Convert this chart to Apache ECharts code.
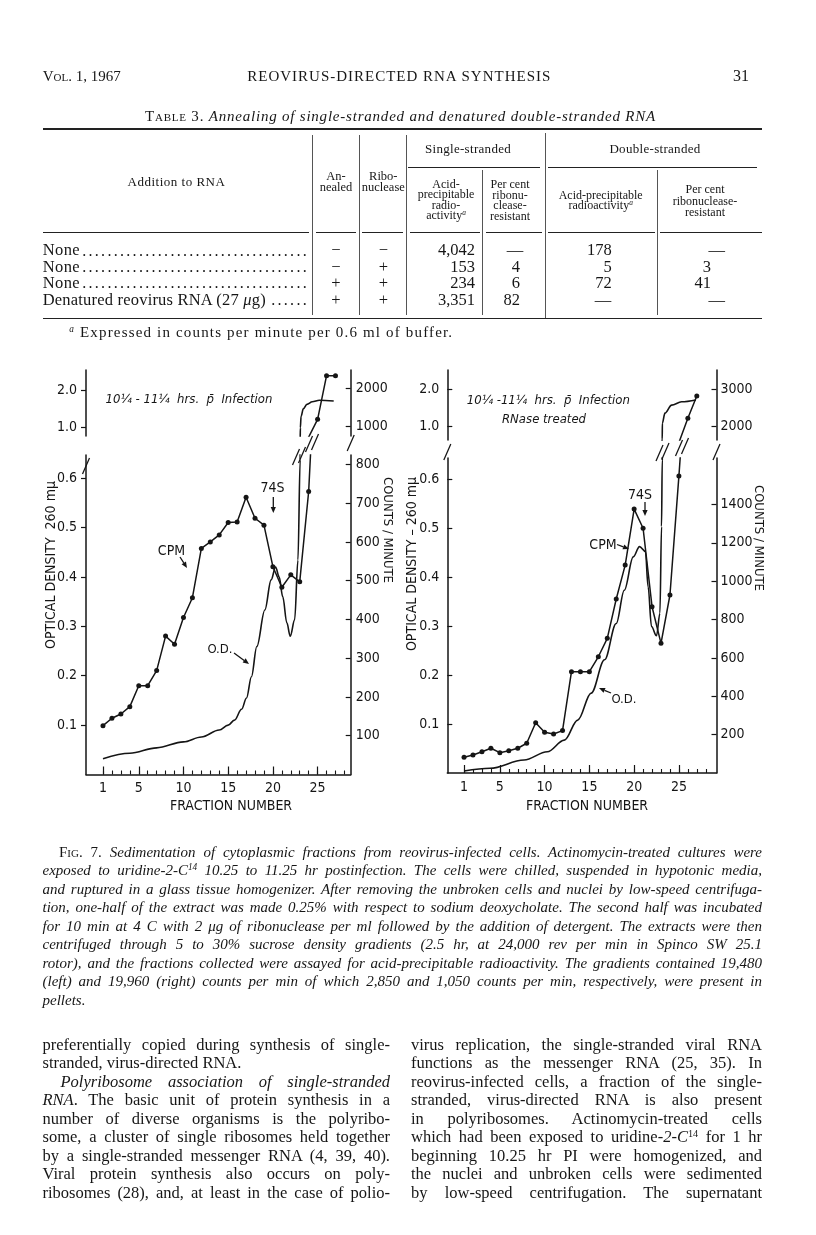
<!DOCTYPE html>
<html>
<head>
<meta charset="utf-8">
<title>Reovirus-directed RNA synthesis - Table 3 and Fig. 7</title>
<script src="https://cdn.jsdelivr.net/npm/echarts@6.0.0/dist/echarts.min.js"></script>
<style>
  html, body { margin: 0; padding: 0; background: #fff; }
  #page {
    position: relative; width: 816px; height: 1235px; overflow: hidden; color: #161616;
    font-family: 'Liberation Serif', 'DejaVu Serif', serif;
  }
  #chart { position: absolute; left: 0; top: 0; width: 816px; height: 1235px; }
  .t { position: absolute; white-space: nowrap; z-index: 2; }
  .rule { position: absolute; background: #222; z-index: 2; }
  .sc { font-variant: small-caps; }
  .up { font-style: normal; }
  sup { font-size: 0.62em; line-height: 0; vertical-align: 0.5em; }
</style>
</head>
<body>
<div id="page"><div id="chart"></div></div>
<script>
// Table 3
const rowLabels = ['None', 'None', 'None', 'Denatured reovirus RNA (27 <i>μ</i>g)'];
const annealed = ['−', '−', '+', '+'];
const ribonuclease = ['−', '+', '+', '+'];
const ssAcid = ['4,042', '153', '234', '3,351'];
const ssResistant = ['—', '4', '6', '82'];
const dsAcid = ['178', '5', '72', '—'];
const dsResistant = ['—', '3', '41', '—'];

// Fig. 7, counts per minute for each fraction
const fractions = [1, 2, 3, 4, 5, 6, 7, 8, 9, 10, 11, 12, 13, 14, 15, 16, 17, 18, 19, 20, 21, 22, 23, 24, 25, 26, 27];
const cpmLeft = [126, 145, 156, 175, 229, 229, 268, 357, 336, 405, 456, 583, 600, 618, 650, 651, 715, 661, 643, 536, 483, 515, 497, 730, 1192, 2329, 2329];
const cpmRight = [82, 94, 111, 129, 106, 116, 129, 155, 262, 212, 203, 221, 528, 528, 528, 606, 702, 907, 1084, 1376, 1276, 867, 676, 928, 1548, 2210, 2817];

// Fig. 7, optical density traces (fraction, OD)
const odLeftFrac = [1, 4, 7, 10, 12, 14, 15, 15.7, 16.5, 17.05, 17.6, 18.2, 19.1, 19.8, 20.3, 20.7, 21.1, 21.56, 21.94, 22.43, 22.8, 23.05, 23.07, 23.15, 23.4, 23.8, 24.4, 25.2, 26.8];
const odLeftValue = [0.032, 0.043, 0.054, 0.066, 0.076, 0.09, 0.1, 0.11, 0.132, 0.155, 0.198, 0.259, 0.333, 0.394, 0.42, 0.4, 0.36, 0.307, 0.28, 0.313, 0.434, 0.637, 1.0, 1.3, 1.5, 1.62, 1.69, 1.73, 1.71];
const odRightFrac = [1, 3.9, 7.7, 10.3, 12.2, 13.7, 15.2, 16.7, 18.0, 18.9, 19.9, 20.6, 21.26, 21.56, 21.94, 22.5, 22.88, 23.06, 23.14, 23.15, 23.44, 24.19, 25.3, 26.9];
const odRightValue = [0.004, 0.0096, 0.0265, 0.0435, 0.067, 0.108, 0.163, 0.231, 0.305, 0.373, 0.441, 0.462, 0.452, 0.38, 0.299, 0.28, 0.326, 0.503, 0.639, 1.074, 1.35, 1.57, 1.66, 1.71];

// tick labels
const fractionTicks = [1, 2, 3, 4, 5, 6, 7, 8, 9, 10, 11, 12, 13, 14, 15, 16, 17, 18, 19, 20, 21, 22, 23, 24, 25, 26, 27, 28];
const fractionLabels = [1, 5, 10, 15, 20, 25];
const odTicksLow = [0.1, 0.2, 0.3, 0.4, 0.5, 0.6];
const odTicksHigh = [1.0, 2.0];
const cpmTicksLeftLow = [100, 200, 300, 400, 500, 600, 700, 800];
const cpmTicksLeftHigh = [1000, 2000];
const cpmTicksRightLow = [200, 400, 600, 800, 1000, 1200, 1400];
const cpmTicksRightHigh = [2000, 3000];

// ---------- page text ----------
const page = document.getElementById('page');

function put(html, x, y, o) {
  o = o || {};
  const d = document.createElement('div');
  d.className = 't';
  const fs = o.size || 15;
  d.style.fontSize = fs + 'px';
  d.style.lineHeight = fs + 'px';
  d.style.top = (y - fs / 2) + 'px';
  d.style.left = x + 'px';
  if (o.italic) d.style.fontStyle = 'italic';
  if (o.ls) d.style.letterSpacing = o.ls + 'px';
  if (o.align === 'center') d.style.transform = 'translateX(-50%)';
  if (o.align === 'right') d.style.transform = 'translateX(-100%)';
  d.innerHTML = html;
  page.appendChild(d);
  return d;
}

// stretch letter spacing so the text spans the given width
function fit(d, width) {
  const w = d.getBoundingClientRect().width;
  const n = d.textContent.length;
  d.style.letterSpacing = ((width - w) / n) + 'px';
  return d;
}

// justified single line
function justify(html, x, y, width, o) {
  const d = put(html, x, y, o);
  const gaps = (d.textContent.match(/ /g) || []).length;
  const w = d.getBoundingClientRect().width;
  if (gaps) d.style.wordSpacing = ((width - w) / gaps) + 'px';
  return d;
}

function hrule(x1, x2, y, t) {
  const d = document.createElement('div');
  d.className = 'rule';
  d.style.left = x1 + 'px'; d.style.width = (x2 - x1) + 'px';
  d.style.top = (y - t / 2) + 'px'; d.style.height = t + 'px';
  page.appendChild(d);
}
function vrule(x, y1, y2) {
  const d = document.createElement('div');
  d.className = 'rule';
  d.style.left = (x - 0.5) + 'px'; d.style.width = '1px';
  d.style.top = y1 + 'px'; d.style.height = (y2 - y1) + 'px';
  d.style.background = '#555';
  page.appendChild(d);
}

// running head
put('<span class="sc">Vol.</span> 1, 1967', 42.7, 76, { size: 15 });
fit(put('REOVIRUS-DIRECTED RNA SYNTHESIS', 247.3, 76, { size: 15 }), 304);
put('31', 749, 76, { size: 16, align: 'right' });

// table title and rules
fit(put('<span class="sc">Table</span> 3. <i>Annealing of single-stranded and denatured double-stranded RNA</i>', 145, 116.7, { size: 15 }), 511);
hrule(43, 762, 129.3, 2);
[312.7, 359.3, 406.7].forEach(x => vrule(x, 135, 315));
vrule(545, 133, 318);
[482.7, 657.3].forEach(x => vrule(x, 170, 315));
hrule(408, 540, 167.3, 1);
hrule(548, 757, 167.3, 1);
[[43, 309], [316, 356], [362, 403], [410, 480], [486, 542], [548, 655], [660, 762]]
  .forEach(s => hrule(s[0], s[1], 232.3, 1));
hrule(43, 762, 318.3, 1.6);

// column heads
put('Addition to RNA', 176.5, 181.7, { size: 13, align: 'center', ls: 0.5 });
put('An-', 336, 176.7, { size: 12.5, align: 'center' });
put('nealed', 336, 187.3, { size: 12.5, align: 'center' });
put('Ribo-', 383.3, 176.7, { size: 12.5, align: 'center' });
put('nuclease', 383.3, 187.3, { size: 12.5, align: 'center' });
put('Single-stranded', 468, 148.3, { size: 13, align: 'center', ls: 0.3 });
put('Double-stranded', 655, 148.3, { size: 13, align: 'center', ls: 0.3 });
['Acid-', 'precipitable', 'radio-', 'activity<sup><i>a</i></sup>']
  .forEach((s, i) => put(s, 446, 184 + i * 10.4, { size: 12, align: 'center' }));
['Per cent', 'ribonu-', 'clease-', 'resistant']
  .forEach((s, i) => put(s, 510, 184 + i * 10.5, { size: 12, align: 'center' }));
['Acid-precipitable', 'radioactivity<sup><i>a</i></sup>']
  .forEach((s, i) => put(s, 600.7, 195 + i * 10.2, { size: 12, align: 'center' }));
['Per cent', 'ribonuclease-', 'resistant']
  .forEach((s, i) => put(s, 705, 189.3 + i * 11.2, { size: 12, align: 'center' }));

// body of the table
const rowY = [250.7, 267.3, 283.3, 300];
function cell(val, y, rightX, dashX) {
  if (val === '—') put('—', dashX, y, { size: 16.5, align: 'center' });
  else put(val, rightX, y, { size: 16.5, align: 'right' });
}
rowLabels.forEach((lab, i) => {
  const y = rowY[i];
  const d = put(lab, 42.7, y, { size: 16.5, ls: i === 3 ? 0.2 : 0.4 });
  const end = 42.7 + d.getBoundingClientRect().width + 2;
  const n = Math.floor((309 - end) / 6.3);
  if (n > 0) put('.'.repeat(n), 309, y, { size: 16, align: 'right', ls: 2.3 });
  put(annealed[i], 336, y, { size: 16.5, align: 'center' });
  put(ribonuclease[i], 383.3, y, { size: 16.5, align: 'center' });
  cell(ssAcid[i], y, 475, 462);
  cell(ssResistant[i], y, 520, 515);
  cell(dsAcid[i], y, 611.7, 603);
  cell(dsResistant[i], y, 711, 716.7);
});
fit(put('<sup><i>a</i></sup> Expressed in counts per minute per 0.6 ml of buffer.', 69.3, 332.7, { size: 15 }), 384);

// figure legend
const capLines = [
  '<span class="up"><span class="sc">Fig.</span> 7.</span> Sedimentation of cytoplasmic fractions from reovirus-infected cells. Actinomycin-treated cultures were',
  'exposed to uridine-2-C<sup>14</sup> 10.25 to 11.25 hr postinfection. The cells were chilled, suspended in hypotonic media,',
  'and ruptured in a glass tissue homogenizer. After removing the unbroken cells and nuclei by low-speed centrifuga-',
  'tion, one-half of the extract was made 0.25% with respect to sodium deoxycholate. The second half was incubated',
  'for 10 min at 4 C with 2 μg of ribonuclease per ml followed by the addition of detergent. The extracts were then',
  'centrifuged through 5 to 30% sucrose density gradients (2.5 hr, at 24,000 rev per min in Spinco SW 25.1',
  'rotor), and the fractions collected were assayed for acid-precipitable radioactivity. The gradients contained 19,480',
  '(left) and 19,960 (right) counts per min of which 2,850 and 1,050 counts per min, respectively, were present in',
  'pellets.'
];
capLines.forEach((s, i) => {
  const y = 852 + i * 18.5;
  if (i === capLines.length - 1) put(s, 42.5, y, { size: 15, italic: true });
  else if (i === 0) justify(s, 59, y, 703, { size: 15, italic: true });
  else justify(s, 42.5, y, 719.5, { size: 15, italic: true });
});

// running text, two columns
const leftCol = [
  'preferentially copied during synthesis of single-',
  'stranded, virus-directed RNA.',
  '<i>Polyribosome association of single-stranded</i>',
  '<i>RNA</i>. The basic unit of protein synthesis in a',
  'number of diverse organisms is the polyribo-',
  'some, a cluster of single ribosomes held together',
  'by a single-stranded messenger RNA (4, 39, 40).',
  'Viral protein synthesis also occurs on poly-',
  'ribosomes (28), and, at least in the case of polio-'
];
const rightCol = [
  'virus replication, the single-stranded viral RNA',
  'functions as the messenger RNA (25, 35). In',
  'reovirus-infected cells, a fraction of the single-',
  'stranded, virus-directed RNA is also present',
  'in polyribosomes. Actinomycin-treated cells',
  'which had been exposed to uridine-<i>2-C</i><sup>14</sup> for 1 hr',
  'beginning 10.25 hr PI were homogenized, and',
  'the nuclei and unbroken cells were sedimented',
  'by low-speed centrifugation. The supernatant'
];
leftCol.forEach((s, i) => {
  const y = 1045 + i * 18.5;
  if (i === 1) put(s, 42.5, y, { size: 16.5 });
  else if (i === 2) justify(s, 60.5, y, 329.5, { size: 16.5 });
  else justify(s, 42.5, y, 347.5, { size: 16.5 });
});
rightCol.forEach((s, i) => justify(s, 411, 1045 + i * 18.5, 351, { size: 16.5 }));

// ---------- Fig. 7 ----------
const ink = '#151515';
const sans = "'Liberation Sans Narrow','DejaVu Sans Condensed','Liberation Sans',sans-serif";

function fracAxis(gridIndex, min, max, kind) {
  const ax = { type: 'value', gridIndex, min, max, position: 'bottom', splitLine: { show: false } };
  if (kind === 'hidden') return Object.assign(ax, { show: false });
  if (kind === 'major') {
    return Object.assign(ax, {
      axisLine: { show: false },
      axisTick: { inside: true, length: 8, customValues: fractionLabels, lineStyle: { color: ink, width: 1.2 } },
      axisLabel: { show: false }
    });
  }
  return Object.assign(ax, {
    axisLine: { onZero: false, lineStyle: { color: ink, width: 1.5 } },
    axisTick: { inside: true, length: 4, customValues: fractionTicks, lineStyle: { color: ink, width: 1.1 } },
    axisLabel: { customValues: fractionLabels, margin: 7, color: ink, fontFamily: sans, fontSize: 14 }
  });
}

function valAxis(gridIndex, position, min, max, ticks, o) {
  return {
    type: 'value', gridIndex, position, min, max,
    splitLine: { show: false },
    axisLine: { show: true, onZero: false, lineStyle: { color: ink, width: 1.5 } },
    axisTick: { show: true, inside: o.inside, length: 5, customValues: ticks, lineStyle: { color: ink, width: 1.2 } },
    axisLabel: {
      customValues: ticks, margin: o.margin, color: ink, fontFamily: sans, fontSize: 14,
      formatter: o.decimals ? (v => v.toFixed(1)) : (v => String(v))
    }
  };
}

function odSeries(xi, yi, fr, vals) {
  return {
    type: 'line', xAxisIndex: xi, yAxisIndex: yi, silent: true, clip: true,
    data: fr.map((f, i) => [f, vals[i]]),
    smooth: 0.35, smoothMonotone: 'x', symbol: 'none',
    lineStyle: { color: ink, width: 1.6 }
  };
}

function cpmSeries(xi, yi, vals) {
  return {
    type: 'line', xAxisIndex: xi, yAxisIndex: yi, silent: true, clip: true,
    data: fractions.map((f, i) => [f, vals[i]]),
    symbol: 'circle', symbolSize: 5, itemStyle: { color: ink },
    lineStyle: { color: ink, width: 1.5 }
  };
}

function label(text, x, y, size, o) {
  o = o || {};
  return {
    type: 'text', x, y, rotation: o.rot || 0, z: 10,
    style: {
      text, fontSize: size, fontFamily: sans, fontStyle: o.italic ? 'italic' : 'normal',
      fill: ink, align: 'center', verticalAlign: 'middle'
    }
  };
}

function arrow(x1, y1, x2, y2) {
  const a = Math.atan2(y2 - y1, x2 - x1), L = 6, W = 2.6;
  const bx = x2 - L * Math.cos(a), by = y2 - L * Math.sin(a);
  return [
    { type: 'line', z: 10, shape: { x1, y1, x2: bx, y2: by }, style: { stroke: ink, lineWidth: 1.3 } },
    { type: 'polygon', z: 10, shape: { points: [[x2, y2], [bx + W * Math.sin(a), by - W * Math.cos(a)], [bx - W * Math.sin(a), by + W * Math.cos(a)]] }, style: { fill: ink } }
  ];
}

function slash(cx, cy) {
  return { type: 'line', z: 10, shape: { x1: cx - 3.5, y1: cy + 8, x2: cx + 3.5, y2: cy - 8 }, style: { stroke: ink, lineWidth: 1.3 } };
}
function doubleSlash(cx, cy) { return [slash(cx - 3, cy + 1), slash(cx + 3, cy - 1)]; }

const graphics = [].concat(
  // axis titles
  label('FRACTION NUMBER', 231, 806.7, 14),
  label('FRACTION NUMBER', 587, 806.7, 14),
  label('OPTICAL DENSITY  260 mμ', 51, 565, 14, { rot: Math.PI / 2 }),
  label('COUNTS / MINUTE', 387.5, 530, 13, { rot: -Math.PI / 2 }),
  label('OPTICAL DENSITY – 260 mμ', 412.5, 564, 14, { rot: Math.PI / 2 }),
  label('COUNTS / MINUTE', 758, 538, 13, { rot: -Math.PI / 2 }),
  // left panel notes
  label('10¼ - 11¼  hrs.  p̄  Infection', 189, 400, 13, { italic: true }),
  label('CPM', 171.5, 551, 14),
  arrow(180, 557, 187, 568),
  label('74S', 272.5, 488, 14),
  arrow(273.3, 497, 273.3, 513),
  label('O.D.', 220, 650, 13),
  arrow(234, 653, 249, 664),
  // right panel notes
  label('10¼ -11¼  hrs.  p̄  Infection', 548.3, 400.8, 13, { italic: true }),
  label('RNase treated', 544, 420, 13, { italic: true }),
  label('74S', 640, 495, 14),
  arrow(645, 502, 645, 516),
  label('CPM', 603, 545, 14),
  arrow(617, 544.5, 629, 549),
  label('O.D.', 624, 700, 13),
  arrow(611, 693, 599, 688),
  // scale breaks
  slash(86, 466), slash(350.7, 443), doubleSlash(299, 456), doubleSlash(312, 443),
  slash(447.3, 452), slash(716.5, 452), doubleSlash(662.5, 452), doubleSlash(682, 447)
);

const chart = echarts.init(document.getElementById('chart'));
chart.setOption({
  animation: false,
  textStyle: { fontFamily: sans },
  grid: [
    { left: 86, top: 455, width: 264.7, height: 319.5 },
    { left: 86, top: 370, width: 264.7, height: 66 },
    { left: 447.3, top: 458, width: 269.2, height: 315 },
    { left: 447.3, top: 370, width: 269.2, height: 70 }
  ],
  xAxis: [
    fracAxis(0, -0.9, 28.7, 'minor'),
    fracAxis(0, -0.9, 28.7, 'major'),
    fracAxis(1, -0.9, 28.7, 'hidden'),
    fracAxis(2, -0.87, 29.2, 'minor'),
    fracAxis(2, -0.87, 29.2, 'major'),
    fracAxis(3, -0.87, 29.2, 'hidden')
  ],
  yAxis: [
    valAxis(0, 'left', 0, 0.6468, odTicksLow, { inside: false, margin: 9, decimals: true }),
    valAxis(0, 'right', 0, 824.1, cpmTicksLeftLow, { inside: true, margin: 5 }),
    valAxis(1, 'left', 0.78, 2.531, odTicksHigh, { inside: false, margin: 9, decimals: true }),
    valAxis(1, 'right', 757.8, 2476.6, cpmTicksLeftHigh, { inside: true, margin: 5 }),
    valAxis(2, 'left', 0, 0.6429, odTicksLow, { inside: true, margin: 8, decimals: true }),
    valAxis(2, 'right', 0, 1642.3, cpmTicksRightLow, { inside: true, margin: 4 }),
    valAxis(3, 'left', 0.6185, 2.526, odTicksHigh, { inside: true, margin: 8, decimals: true }),
    valAxis(3, 'right', 1618.5, 3525.9, cpmTicksRightHigh, { inside: true, margin: 4 })
  ],
  series: [
    odSeries(0, 0, odLeftFrac, odLeftValue),
    odSeries(2, 2, odLeftFrac, odLeftValue),
    cpmSeries(0, 1, cpmLeft),
    cpmSeries(2, 3, cpmLeft),
    odSeries(3, 4, odRightFrac, odRightValue),
    odSeries(5, 6, odRightFrac, odRightValue),
    cpmSeries(3, 5, cpmRight),
    cpmSeries(5, 7, cpmRight)
  ],
  graphic: { elements: graphics }
});
</script>
</body>
</html>
